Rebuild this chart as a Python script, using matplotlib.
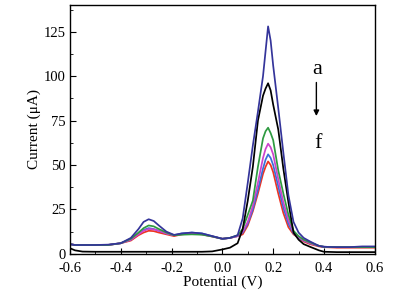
import matplotlib
matplotlib.use("Agg")
import matplotlib.pyplot as plt
from matplotlib.ticker import MultipleLocator

# potential grid (V)
potential = [-0.60, -0.58, -0.55, -0.50, -0.45, -0.40, -0.36, -0.33, -0.31, -0.29,
             -0.27, -0.25, -0.22, -0.19, -0.16, -0.12, -0.08, -0.04, 0.00, 0.03,
             0.06, 0.08, 0.10, 0.12, 0.14, 0.16, 0.17, 0.18, 0.19, 0.20,
             0.22, 0.24, 0.26, 0.28, 0.30, 0.32, 0.345, 0.38, 0.40, 0.45,
             0.50, 0.55, 0.60]

# currents (uA), curves a..f
cur_a = [5.5, 5, 5, 5, 5.2, 6, 9, 14, 18, 19.5,
         18.5, 16, 12.5, 10.7, 11.5, 12, 11.5, 10, 8.5, 9,
         10.5, 20, 40, 61, 80, 100, 114, 128, 120, 106,
         82, 57, 33, 18, 12, 9, 7, 4.5, 4, 3.8,
         3.8, 4.2, 4.2]
cur_b = [3.2, 2, 1.3, 1.2, 1.2, 1.2, 1.2, 1.2, 1.2, 1.2,
         1.2, 1.2, 1.2, 1.2, 1.2, 1.2, 1.2, 1.4, 2.5, 3.5,
         6, 14, 30, 49, 75, 89, 93, 96, 92, 84,
         70, 48, 29, 12, 8, 5.5, 4, 2, 1.2, 1,
         1, 1, 1]
cur_c = [5.5, 5, 5, 5, 5, 6, 8.5, 12, 14.5, 16,
         15.5, 14, 12, 10.5, 10.8, 11, 10.8, 9.8, 8.5, 9,
         10.5, 14, 22, 30, 49, 65, 69, 71, 68, 64,
         47, 34, 22, 13, 10, 8, 6.5, 4.5, 4, 3.8,
         3.8, 3.8, 3.8]
cur_d = [5.5, 5, 5, 5, 5, 6, 8, 11, 13, 14,
         13.8, 13, 11.5, 10.5, 11, 11.5, 11, 9.8, 8.5, 9,
         10, 12.5, 18, 27, 40, 54, 59, 62, 60, 56,
         42, 29, 19, 12, 9.5, 7.5, 6, 4.5, 4, 3.8,
         3.8, 3.8, 3.8]
cur_e = [5.5, 5, 5, 5, 5, 6, 8, 11.5, 13.5, 14.5,
         14, 13, 11.5, 10.5, 11.5, 12, 11.5, 10, 8.5, 9,
         10, 12, 17, 25, 36, 48, 53, 56, 54, 50,
         38, 26, 17, 11.5, 9, 7.5, 6, 4.5, 4, 3.8,
         3.8, 3.8, 3.8]
cur_f = [5.5, 5, 5, 5, 5, 6, 7.5, 10.5, 12, 13,
         12.8, 12, 11, 10, 11, 11.5, 11, 9.8, 8.5, 9,
         10, 11, 16, 24, 34, 45, 49, 52, 50, 46,
         34, 23, 15, 11, 9, 7, 5.5, 4.2, 3.8, 3.5,
         3.5, 3.5, 3.5]

plt.rcParams['font.family'] = ['Liberation Serif', 'DejaVu Serif']

fig = plt.figure(figsize=(4.16, 2.98), dpi=100)
ax = fig.add_axes([0.168, 0.148, 0.733, 0.835])

# draw smallest first so the top curve sits above
ax.plot(potential, cur_f, color='#ee3322', lw=1.25)
ax.plot(potential, cur_e, color='#3a6fd8', lw=1.25)
ax.plot(potential, cur_d, color='#cc44cc', lw=1.25)
ax.plot(potential, cur_c, color='#2e9a40', lw=1.25)
ax.plot(potential, cur_b, color='black', lw=1.25)
ax.plot(potential, cur_a, color='#34349a', lw=1.25)

ax.set_xlim(-0.6, 0.6)
ax.set_ylim(0, 140)
ax.xaxis.set_major_locator(MultipleLocator(0.2))
ax.xaxis.set_minor_locator(MultipleLocator(0.1))
ax.yaxis.set_major_locator(MultipleLocator(25))
ax.yaxis.set_minor_locator(MultipleLocator(12.5))
ax.tick_params(which='both', direction='in', labelsize=10.5)
ax.tick_params(which='major', length=4)
ax.tick_params(which='minor', length=2)
ax.tick_params(axis='x', pad=6)
ax.tick_params(axis='y', pad=3)
ax.set_xticks([-0.6, -0.4, -0.2, 0.0, 0.2, 0.4, 0.6])
ax.set_xticklabels(['-0.6', '-0.4', '-0.2', '0.0', '0.2', '0.4', '0.6'])
for s in ax.spines.values():
    s.set_linewidth(1.0)

ax.set_xlabel('Potential (V)', fontsize=11, labelpad=0)
ax.set_ylabel('Current (\u03bcA)', fontsize=11, labelpad=2)

# a -> f annotation
ax.text(0.375, 104, 'a', fontsize=16, ha='center', va='center')
ax.text(0.375, 62, 'f', fontsize=16, ha='center', va='center')
ax.annotate('', xy=(0.37, 76), xytext=(0.37, 98),
            arrowprops=dict(arrowstyle='-|>', color='black', lw=1, mutation_scale=8))

fig.savefig('out.png', dpi=100)
